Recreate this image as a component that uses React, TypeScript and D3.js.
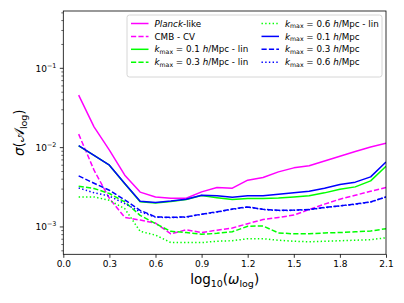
import * as d3 from 'd3';
import React, { useEffect, useRef } from 'react';

// x values: log10(omega_log)
const xs = [0.1, 0.2, 0.3, 0.4, 0.5, 0.6, 0.7, 0.8, 0.9, 1.0, 1.1, 1.2, 1.3, 1.4, 1.5, 1.6, 1.7, 1.8, 1.9, 2.0, 2.1];

const planck = [0.046, 0.0183, 0.0093, 0.0045, 0.00275, 0.00239, 0.0023, 0.0023, 0.00277, 0.00314, 0.00308, 0.00389, 0.0042, 0.00495, 0.00556, 0.0059, 0.0068, 0.0078, 0.00895, 0.0102, 0.0114];
const cmbCV = [0.0148, 0.0052, 0.00229, 0.00132, 0.00122, 0.00112, 0.00082, 0.00092, 0.00085, 0.00091, 0.00097, 0.0011, 0.00124, 0.00132, 0.00141, 0.00166, 0.00194, 0.00224, 0.00251, 0.00282, 0.00314];
const lin01 = [0.0105, 0.0080, 0.0060, 0.0035, 0.00208, 0.00201, 0.0021, 0.00222, 0.00249, 0.00234, 0.00222, 0.00228, 0.00228, 0.00232, 0.00239, 0.00248, 0.00269, 0.00299, 0.0032, 0.00381, 0.00583];
const lin03 = [0.00327, 0.00305, 0.00264, 0.00207, 0.0014, 0.0011, 0.00088, 0.00085, 0.00081, 0.00083, 0.00087, 0.00102, 0.00103, 0.00084, 0.00082, 0.00082, 0.00084, 0.00085, 0.00087, 0.00089, 0.00095];
const lin06 = [0.00239, 0.00239, 0.00217, 0.0017, 0.00088, 0.00079, 0.000635, 0.000635, 0.000635, 0.00066, 0.00067, 0.00071, 0.00071, 0.00068, 0.00066, 0.00065, 0.00066, 0.00067, 0.00068, 0.00069, 0.00073];
const k01 = [0.0106, 0.0080, 0.0060, 0.00353, 0.00211, 0.00203, 0.00212, 0.00224, 0.00251, 0.00248, 0.00236, 0.00248, 0.00248, 0.00259, 0.00269, 0.00282, 0.00308, 0.00343, 0.00367, 0.00428, 0.0066];
const k03 = [0.0044, 0.00356, 0.0029, 0.00219, 0.00162, 0.00134, 0.00132, 0.00134, 0.00145, 0.00155, 0.00168, 0.00179, 0.00167, 0.00162, 0.00163, 0.00166, 0.00176, 0.00185, 0.00194, 0.00207, 0.00239];
const k06 = [0.0031, 0.0027, 0.00245, 0.00197, 0.00155, 0.00133, 0.00131, 0.00133, 0.00144, 0.00154, 0.00167, 0.00178, 0.00166, 0.00161, 0.00162, 0.00165, 0.00175, 0.00184, 0.00193, 0.00206, 0.00238];

const xTicks = [0.0, 0.3, 0.6, 0.9, 1.2, 1.5, 1.8, 2.1];
const yTicks = [1e-3, 1e-2, 1e-1];
const yTickExp = ['\u22123', '\u22122', '\u22121'];

const MAG = '#ff00ff';
const GRN = '#00ff00';
const BLU = '#0000ff';

const DASH = '5.2,2.2';
const DOT = '1.4,2.3';

// series in draw order; kmax labels get built as tspans
const series = [
  { values: planck, color: MAG, dash: null, label: 'planck' },
  { values: cmbCV, color: MAG, dash: DASH, label: 'cmb' },
  { values: lin01, color: GRN, dash: null, label: 'k', k: '0.1', lin: true },
  { values: lin03, color: GRN, dash: DASH, label: 'k', k: '0.3', lin: true },
  { values: lin06, color: GRN, dash: DOT, label: 'k', k: '0.6', lin: true },
  { values: k01, color: BLU, dash: null, label: 'k', k: '0.1', lin: false },
  { values: k03, color: BLU, dash: DASH, label: 'k', k: '0.3', lin: false },
  { values: k06, color: BLU, dash: DOT, label: 'k', k: '0.6', lin: false },
];

export default function App() {
  const ref = useRef<SVGSVGElement>(null);

  useEffect(() => {
    const w = 404, h = 303;
    const left = 63.3, right = 386, top = 11, bottom = 254.3;
    const svg = d3.select(ref.current);
    svg.selectAll('*').remove();
    const font = 'DejaVu Sans, sans-serif';

    const x = d3.scaleLinear().domain([0, 2.1]).range([left, right]);
    const y = d3.scaleLog().domain([4.52e-4, 0.528]).range([bottom, top]);

    svg.append('rect').attr('width', w).attr('height', h).attr('fill', 'white');

    const clip = svg.append('defs').append('clipPath').attr('id', 'plotclip');
    clip.append('rect').attr('x', left).attr('y', top).attr('width', right - left).attr('height', bottom - top);

    const line = d3.line<number>()
      .x((d, i) => x(xs[i]))
      .y(d => y(d));

    const g = svg.append('g').attr('clip-path', 'url(#plotclip)');
    series.forEach(s => {
      g.append('path')
        .attr('d', line(s.values))
        .attr('fill', 'none')
        .attr('stroke', s.color)
        .attr('stroke-width', 1.5)
        .attr('stroke-dasharray', s.dash)
        .attr('stroke-linejoin', 'round');
    });

    // axes
    const xAxis = svg.append('g')
      .attr('transform', `translate(0,${bottom})`)
      .call(d3.axisBottom(x).tickValues(xTicks).tickFormat(d3.format('.1f')).tickSizeOuter(0).tickSize(3.5).tickPadding(3));
    xAxis.select('.domain').remove();
    xAxis.selectAll('text').style('font-family', font).style('font-size', '9px').attr('fill', '#000');
    xAxis.selectAll('line').attr('stroke', '#000').attr('stroke-width', 0.8);

    // y minor ticks
    const minors: number[] = [];
    [1e-4, 1e-3, 1e-2, 1e-1].forEach(base => {
      for (let m = 2; m <= 9; m++) {
        const v = base * m;
        if (v > 4.52e-4 && v < 0.528) minors.push(v);
      }
    });
    svg.append('g').selectAll('line').data(minors).join('line')
      .attr('x1', left).attr('x2', left - 2)
      .attr('y1', d => y(d)).attr('y2', d => y(d))
      .attr('stroke', '#000').attr('stroke-width', 0.6);
    svg.append('g').selectAll('line').data(yTicks).join('line')
      .attr('x1', left).attr('x2', left - 3.5)
      .attr('y1', d => y(d)).attr('y2', d => y(d))
      .attr('stroke', '#000').attr('stroke-width', 0.8);

    const yl = svg.append('g').selectAll('text').data(yTicks).join('text')
      .attr('x', left - 7)
      .attr('y', d => y(d) + 3.3)
      .attr('text-anchor', 'end')
      .style('font-family', font)
      .style('font-size', '9px');
    yl.each(function (d, i) {
      const t = d3.select(this);
      t.append('tspan').text('10');
      t.append('tspan').attr('dy', -4).style('font-size', '6.4px').text(yTickExp[i]);
    });

    // frame
    svg.append('rect')
      .attr('x', left).attr('y', top)
      .attr('width', right - left).attr('height', bottom - top)
      .attr('fill', 'none').attr('stroke', '#000').attr('stroke-width', 0.8);

    // axis labels
    const xl = svg.append('text')
      .attr('x', (left + right) / 2).attr('y', 284)
      .attr('text-anchor', 'middle')
      .style('font-family', font).style('font-size', '13.5px');
    xl.append('tspan').text('log');
    xl.append('tspan').attr('dy', 3).style('font-size', '9.5px').text('10');
    xl.append('tspan').attr('dy', -3).text('(');
    xl.append('tspan').style('font-style', 'italic').text('\u03c9');
    xl.append('tspan').attr('dy', 3).style('font-size', '9.5px').text('log');
    xl.append('tspan').attr('dy', -3).text(')');

    const ylab = svg.append('text')
      .attr('transform', `translate(24,${(top + bottom) / 2}) rotate(-90)`)
      .attr('text-anchor', 'middle')
      .style('font-family', font).style('font-size', '13.5px');
    ylab.append('tspan').style('font-style', 'italic').text('\u03c3');
    ylab.append('tspan').text('(');
    ylab.append('tspan').text('\ud835\udc9c');
    ylab.append('tspan').attr('dy', 3).style('font-size', '9.5px').text('log');
    ylab.append('tspan').attr('dy', -3).text(')');

    // legend
    const lg = svg.append('g');
    lg.append('rect')
      .attr('x', 127).attr('y', 15).attr('width', 255).attr('height', 62)
      .attr('rx', 2.5)
      .attr('fill', 'white').attr('fill-opacity', 0.8)
      .attr('stroke', '#cccccc').attr('stroke-width', 0.8);
    const fs = 8.75;
    series.forEach((s, i) => {
      const col = Math.floor(i / 4);
      const row = i % 4;
      const hx = col === 0 ? 131 : 261.5;
      const ry = 23.5 + row * 12.9;
      lg.append('line')
        .attr('x1', hx).attr('x2', hx + 17.5)
        .attr('y1', ry).attr('y2', ry)
        .attr('stroke', s.color).attr('stroke-width', 1.5)
        .attr('stroke-dasharray', s.dash);
      const t = lg.append('text')
        .attr('x', hx + 23.5).attr('y', ry + 3.1)
        .style('font-family', font).style('font-size', `${fs}px`);
      if (s.label === 'planck') {
        t.append('tspan').style('font-style', 'italic').text('Planck');
        t.append('tspan').text('-like');
      } else if (s.label === 'cmb') {
        t.text('CMB - CV');
      } else {
        t.append('tspan').style('font-style', 'italic').text('k');
        t.append('tspan').attr('dy', 1.8).style('font-size', '6.2px').text('max');
        t.append('tspan').attr('dy', -1.8).text(` = ${s.k} `);
        t.append('tspan').style('font-style', 'italic').text('h');
        t.append('tspan').text(s.lin ? '/Mpc - lin' : '/Mpc');
      }
    });
  }, []);

  return (
    <svg ref={ref} width={404} height={303} style={{ position: 'absolute', left: 0, top: 0 }} />
  );
}
